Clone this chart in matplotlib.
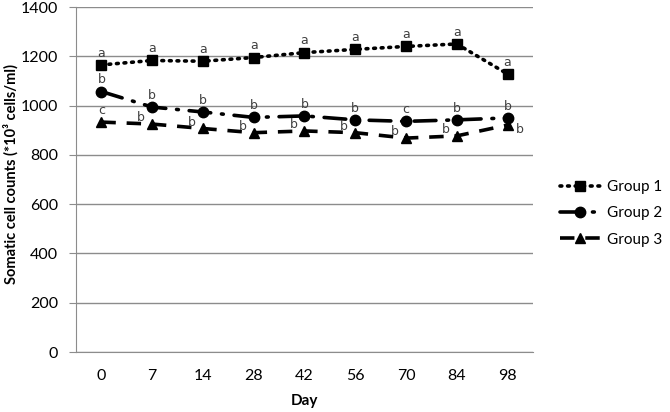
import matplotlib
matplotlib.use("Agg")
import matplotlib.pyplot as plt

days = ["0", "7", "14", "28", "42", "56", "70", "84", "98"]
group1 = [1165, 1183, 1180, 1195, 1215, 1228, 1240, 1250, 1128]
group2 = [1057, 994, 974, 952, 958, 942, 936, 942, 950]
group3 = [933, 925, 907, 890, 897, 890, 868, 877, 921]
labels1 = ["a"] * 9
labels2 = ["b", "b", "b", "b", "b", "b", "c", "b", "b"]
labels3 = ["c", "b", "b", "b", "b", "b", "b", "b", "b"]

plt.rcParams['font.family'] = ['Lato', 'DejaVu Sans']

fig = plt.figure(figsize=(6.7, 4.12), dpi=100)
ax = fig.add_axes([0.1134, 0.1456, 0.6821, 0.8374])
x = list(range(len(days)))

ax.plot(x, group1, color='black', lw=2.6, linestyle=(0, (0.5, 1.6)), dash_capstyle='round',
        marker='s', markersize=7.5, label='Group 1')
ax.plot(x, group2, color='black', lw=2.6, linestyle=(0, (6, 3, 0.5, 3)), dash_capstyle='round',
        marker='o', markersize=7.5, label='Group 2')
ax.plot(x, group3, color='black', lw=2.6, linestyle=(0, (4, 3)),
        marker='^', markersize=7.5, label='Group 3')

lab_kw = dict(fontsize=9, color='#404040', family='DejaVu Sans', ha='center')
for i in x:
    ax.annotate(labels1[i], (i, group1[i]), textcoords='offset points', xytext=(0, 6), **lab_kw)
    ax.annotate(labels2[i], (i, group2[i]), textcoords='offset points', xytext=(0, 6), **lab_kw)
    if i == 0:
        ax.annotate(labels3[i], (i, group3[i]), textcoords='offset points', xytext=(0, 6), **lab_kw)
    elif i == len(days) - 1:
        ax.annotate(labels3[i], (i, group3[i]), textcoords='offset points', xytext=(9, -6), **lab_kw)
    else:
        ax.annotate(labels3[i], (i, group3[i]), textcoords='offset points', xytext=(-8, 2), **lab_kw)

ax.set_xlim(-0.5, len(days) - 0.5)
ax.set_ylim(0, 1400)
ax.set_yticks(range(0, 1401, 200))
ax.set_xticks(x)
ax.set_xticklabels(days)
ax.grid(axis='y', color='#8c8c8c', lw=1)
ax.set_axisbelow(True)
for s in ['top', 'right']:
    ax.spines[s].set_visible(False)
for s in ['left', 'bottom']:
    ax.spines[s].set_color('#8c8c8c')
ax.tick_params(axis='x', length=0, labelsize=11.5, pad=12)
ax.tick_params(axis='y', length=5, color='#8c8c8c', labelsize=11.5, pad=8)
ax.set_xlabel('Day', fontsize=11, fontweight='bold', labelpad=8)
fig.text(0.016, 0.578, 'Somatic cell counts (*10³ cells/ml)', rotation=90, ha='center', va='center',
         fontsize=10.5, fontweight='bold')

fig.legend(*ax.get_legend_handles_labels(), loc='center left', bbox_to_anchor=(0.836, 0.482),
           frameon=False, fontsize=11, handlelength=2.6, labelspacing=0.8, handletextpad=0.5,
           borderaxespad=0, borderpad=0)

fig.savefig('out.png', dpi=100)
